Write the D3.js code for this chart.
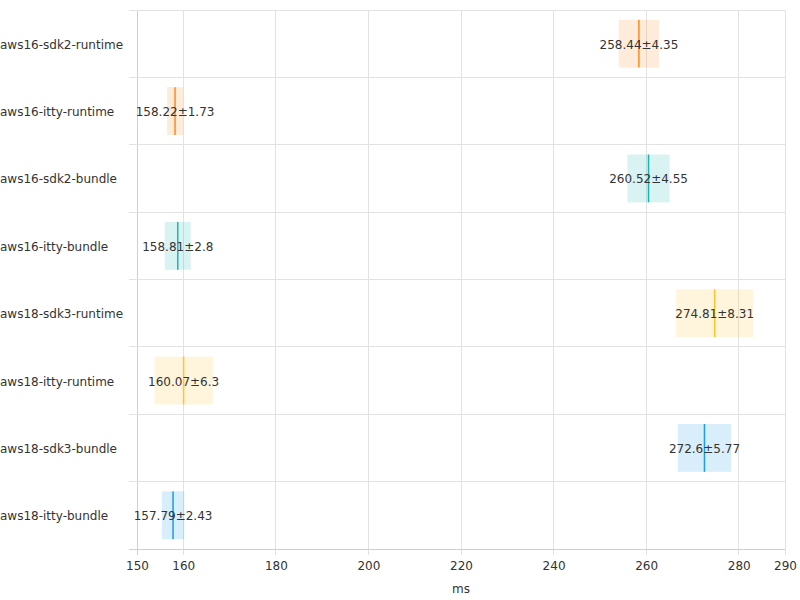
<!DOCTYPE html>
<html><head><meta charset="utf-8">
<script src="https://cdn.jsdelivr.net/npm/d3@7"></script>
<style>body{margin:0;background:#fff;} text{font-family:"DejaVu Sans",sans-serif;}</style>
</head><body><svg id="c" width="800" height="600"></svg>
<script>
const categories = ["aws16-sdk2-runtime","aws16-itty-runtime","aws16-sdk2-bundle","aws16-itty-bundle","aws18-sdk3-runtime","aws18-itty-runtime","aws18-sdk3-bundle","aws18-itty-bundle"];
const means = [258.44,158.22,260.52,158.81,274.81,160.07,272.6,157.79];
const sds = [4.35,1.73,4.55,2.8,8.31,6.3,5.77,2.43];
const groups = ["orange","orange","teal","teal","yellow","yellow","blue","blue"];
const xTicks = [150,160,180,200,220,240,260,280,290];
const palette = {orange:"#ff8a1c", teal:"#1cb3b3", yellow:"#ffc42e", blue:"#1c9be8"};

const svg = d3.select("#c");
const x = d3.scaleLinear().domain([150,290]).range([137,785]);
const y = d3.scaleBand().domain(categories).range([10,549]).paddingInner(0).paddingOuter(0);

// vertical grid
svg.append("g").selectAll("line").data(xTicks).join("line")
  .attr("x1",d=>x(d)).attr("x2",d=>x(d)).attr("y1",10).attr("y2",555)
  .attr("stroke",d=>d===150?"#cfcfcf":"#e2e2e2").attr("stroke-width",1).attr("shape-rendering","crispEdges");
// horizontal grid (row boundaries)
const bounds = categories.map(c=>y(c)).concat([549]);
svg.append("g").selectAll("line").data(bounds).join("line")
  .attr("x1",129).attr("x2",785).attr("y1",d=>d).attr("y2",d=>d)
  .attr("stroke",(d,i)=>i===bounds.length-1?"#cfcfcf":"#e2e2e2").attr("stroke-width",1).attr("shape-rendering","crispEdges");

const bh = y.bandwidth()*0.71;
const rows = svg.append("g").selectAll("g").data(categories).join("g");
rows.append("rect")
  .attr("x",(d,i)=>x(means[i]-sds[i])).attr("width",(d,i)=>x(means[i]+sds[i])-x(means[i]-sds[i]))
  .attr("y",d=>y(d)+(y.bandwidth()-bh)/2).attr("height",bh)
  .attr("fill",(d,i)=>palette[groups[i]]).attr("fill-opacity",0.17);
rows.append("line")
  .attr("x1",(d,i)=>x(means[i])).attr("x2",(d,i)=>x(means[i]))
  .attr("y1",d=>y(d)+(y.bandwidth()-bh)/2).attr("y2",d=>y(d)+(y.bandwidth()+bh)/2)
  .attr("stroke",(d,i)=>palette[groups[i]]).attr("stroke-width",1.5);
rows.append("text")
  .attr("x",(d,i)=>x(means[i])).attr("y",d=>y(d)+y.bandwidth()/2+1)
  .attr("text-anchor","middle").attr("dominant-baseline","central")
  .attr("font-size",12).attr("fill","#333")
  .text((d,i)=>means[i]+"±"+sds[i]);

// y labels
svg.append("g").selectAll("text").data(categories).join("text")
  .attr("x",0).attr("y",d=>y(d)+y.bandwidth()/2+1)
  .attr("dominant-baseline","central").attr("font-size",12).attr("fill","#333").text(d=>d);

// x axis
const xa = svg.append("g").attr("transform","translate(0,549)")
  .call(d3.axisBottom(x).tickValues(xTicks).tickSize(0).tickPadding(12).tickFormat(d3.format("d")));
xa.select(".domain").remove();
xa.selectAll("text").attr("font-size",12).attr("fill","#333").attr("font-family","DejaVu Sans");

svg.append("text").attr("x",461).attr("y",589).attr("text-anchor","middle")
  .attr("dominant-baseline","central").attr("font-size",12).attr("fill","#333").text("ms");
</script></body></html>
